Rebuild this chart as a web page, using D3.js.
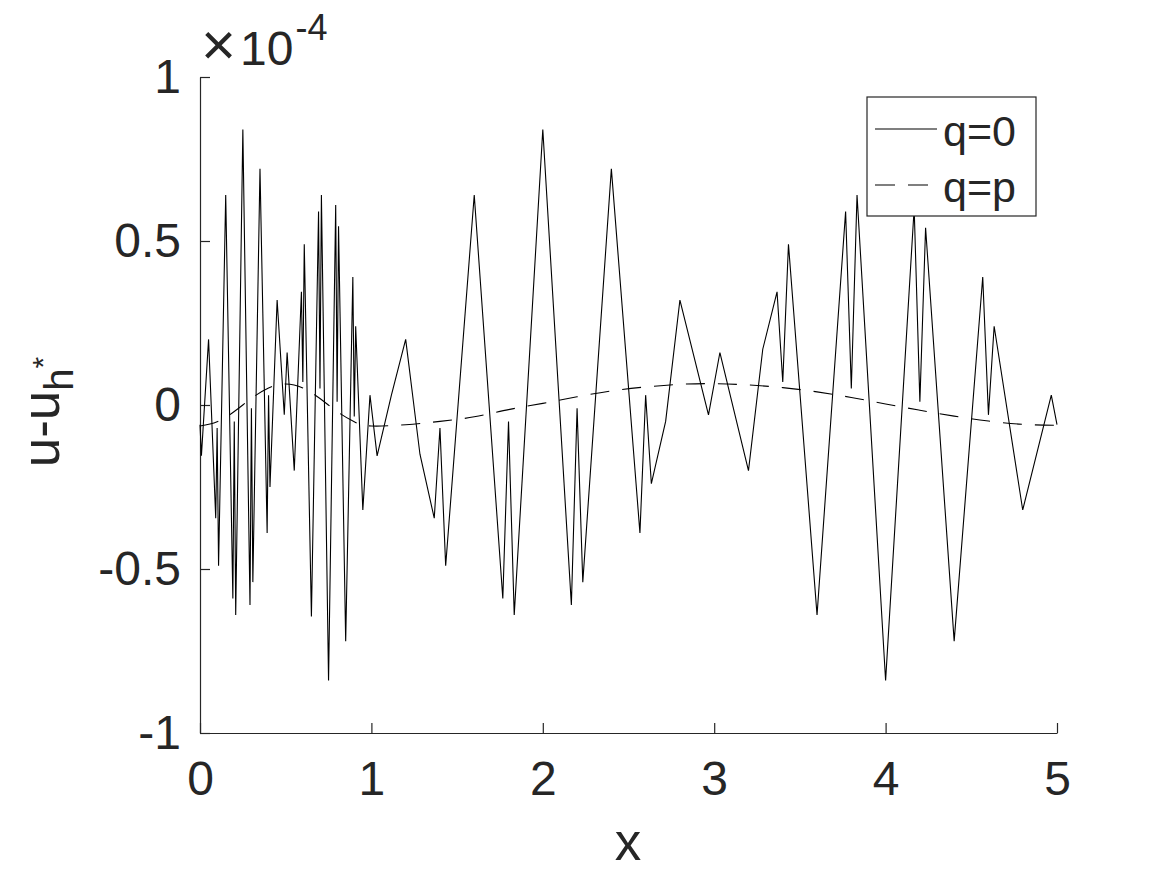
<!DOCTYPE html>
<html>
<head>
  <meta charset="UTF-8">
  <title>u - u_h* error</title>
  <script src="https://cdn.jsdelivr.net/npm/d3@7"></script>
  <style>
    body { margin: 0; background: #fff; }
    text { font-family: "Liberation Sans", Arial, Helvetica, sans-serif; fill: #262626; }
  </style>
</head>
<body>
  <svg id="svg" width="1167" height="875"></svg>

  <script type="text/javascript">

  // error values in units of 1e-4
  var xQ0 = [0, 0.0083, 0.05, 0.0917, 0.1, 0.1083, 0.15, 0.1917, 0.2, 0.2083,
             0.25, 0.2917, 0.3, 0.3083, 0.35, 0.3917, 0.4, 0.4083, 0.45, 0.4917,
             0.5083, 0.55, 0.5917, 0.6, 0.6083, 0.65, 0.6917, 0.7, 0.7083, 0.75,
             0.7917, 0.8, 0.8083, 0.85, 0.8917, 0.9, 0.9083, 0.95, 0.9917, 1.0333,
             1.1167, 1.2, 1.2833, 1.3667, 1.4, 1.4333, 1.6, 1.7667, 1.8, 1.8333,
             2.0, 2.1667, 2.2, 2.2333, 2.4, 2.5667, 2.6, 2.6333, 2.7167, 2.8,
             2.9667, 3.0333, 3.2, 3.2833, 3.3667, 3.4, 3.4333, 3.6, 3.7667, 3.8,
             3.8333, 4.0, 4.1667, 4.2, 4.2333, 4.4, 4.5667, 4.6, 4.6333, 4.8,
             4.9667, 5.0];
  var errQ0 = [-0.06, -0.155, 0.20, -0.345, -0.07, -0.49, 0.64, -0.59, -0.05, -0.64,
               0.84, -0.61, -0.01, -0.54, 0.72, -0.39, 0.03, -0.25, 0.32, -0.03,
               0.16, -0.2, 0.345, 0.07, 0.49, -0.645, 0.59, 0.05, 0.64, -0.84,
               0.61, 0.01, 0.545, -0.72, 0.39, -0.035, 0.24, -0.32, 0.03, -0.155,
               0.03, 0.2, -0.15, -0.345, -0.07, -0.49, 0.64, -0.59, -0.05, -0.64,
               0.84, -0.61, -0.01, -0.54, 0.72, -0.39, 0.03, -0.24, -0.05, 0.32,
               -0.03, 0.16, -0.2, 0.17, 0.345, 0.07, 0.49, -0.64, 0.59, 0.05,
               0.64, -0.84, 0.6, 0.01, 0.54, -0.72, 0.39, -0.03, 0.24, -0.32,
               0.03, -0.06];

  var xQp = [0, 0.1, 0.2, 0.3, 0.4, 0.5, 0.6, 0.7, 0.8, 0.9, 1.0,
             1.2, 1.4, 1.6, 1.8, 2.0, 2.2, 2.4, 2.6, 2.8, 3.0,
             3.2, 3.4, 3.6, 3.8, 4.0, 4.2, 4.4, 4.6, 4.8, 5.0];
  var errQp = [-0.064, -0.051, -0.02, 0.02, 0.052, 0.064, 0.052, 0.02, -0.02, -0.051, -0.064,
               -0.06, -0.05, -0.036, -0.014, 0.005, 0.025, 0.043, 0.055, 0.063, 0.065,
               0.061, 0.053, 0.04, 0.023, 0.003, -0.016, -0.034, -0.049, -0.059, -0.062];

  var xTicks = [0, 1, 2, 3, 4, 5];
  var yTicks = [-1, -0.5, 0, 0.5, 1];
  var legendNames = ["q=0", "q=p"];

  var svg = d3.select('#svg');

  var x = d3.scaleLinear().domain([0, 5]).range([200, 1057]);
  var y = d3.scaleLinear().domain([-1, 1]).range([733, 77]);

  var line = d3.line()
    .x(function(d) { return x(d[0]); })
    .y(function(d) { return y(d[1]); });

  var q0 = xQ0.map(function(v, i) { return [v, errQ0[i]]; });
  var qp = xQp.map(function(v, i) { return [v, errQp[i]]; });

  // axes (box off, ticks inside)
  var gx = svg.append('g')
    .attr('transform', 'translate(0,733)')
    .call(d3.axisBottom(x).tickValues(xTicks).tickSizeInner(-10).tickSizeOuter(0)
      .tickPadding(28).tickFormat(d3.format('d')));

  var gy = svg.append('g')
    .attr('transform', 'translate(200,0)')
    .call(d3.axisLeft(y).tickValues(yTicks).tickSizeInner(-10).tickSizeOuter(0)
      .tickPadding(19).tickFormat(function(d) { return d === 0 ? '0' : String(d); }));

  svg.selectAll('.domain, .tick line')
    .attr('stroke', '#262626')
    .attr('stroke-width', 1.2);
  svg.selectAll('.tick text')
    .attr('fill', '#262626')
    .style('font-size', '48px');

  // data lines
  svg.append('path')
    .datum(qp)
    .attr('fill', 'none')
    .attr('stroke', '#000')
    .attr('stroke-width', 1.1)
    .attr('stroke-dasharray', '19,13')
    .attr('d', line.curve(d3.curveNatural));

  svg.append('path')
    .datum(q0)
    .attr('fill', 'none')
    .attr('stroke', '#000')
    .attr('stroke-width', 1.1)
    .attr('stroke-linejoin', 'miter')
    .attr('d', line.curve(d3.curveLinear));

  // exponent label
  var ex = svg.append('text')
    .attr('x', 201)
    .attr('y', 65)
    .style('font-size', '48px');
  ex.append('tspan')
    .style('font-size', '60px')
    .style('font-weight', '300')
    .text('\u00d7');
  ex.append('tspan').attr('dx', 4).text('10');
  ex.append('tspan')
    .attr('dy', -25)
    .attr('dx', 2)
    .style('font-size', '36px')
    .text('-4');

  // axis labels
  svg.append('text')
    .attr('x', 628)
    .attr('y', 860)
    .attr('text-anchor', 'middle')
    .style('font-size', '53px')
    .text('x');

  var yl = svg.append('text')
    .attr('transform', 'translate(59,412)rotate(-90)')
    .attr('text-anchor', 'middle')
    .style('font-size', '53px');
  yl.append('tspan').text('u-u');
  yl.append('tspan')
    .attr('dy', 14)
    .style('font-size', '40px')
    .text('h');
  yl.append('tspan')
    .attr('dy', -20)
    .style('font-size', '30px')
    .text('*');

  // legend
  var lg = svg.append('g').attr('transform', 'translate(867,97)');
  lg.append('rect')
    .attr('width', 169)
    .attr('height', 119)
    .attr('fill', '#fff')
    .attr('stroke', '#262626')
    .attr('stroke-width', 1.2);

  legendNames.forEach(function(name, i) {
    var ly = 32 + i * 56;
    lg.append('line')
      .attr('x1', 8)
      .attr('x2', 70)
      .attr('y1', ly)
      .attr('y2', ly)
      .attr('stroke', '#000')
      .attr('stroke-width', 1.1)
      .attr('stroke-dasharray', i === 1 ? '20,13' : null);
    lg.append('text')
      .attr('x', 76)
      .attr('y', ly + 17)
      .style('font-size', '43px')
      .text(name);
  });

  </script>
</body>
</html>
